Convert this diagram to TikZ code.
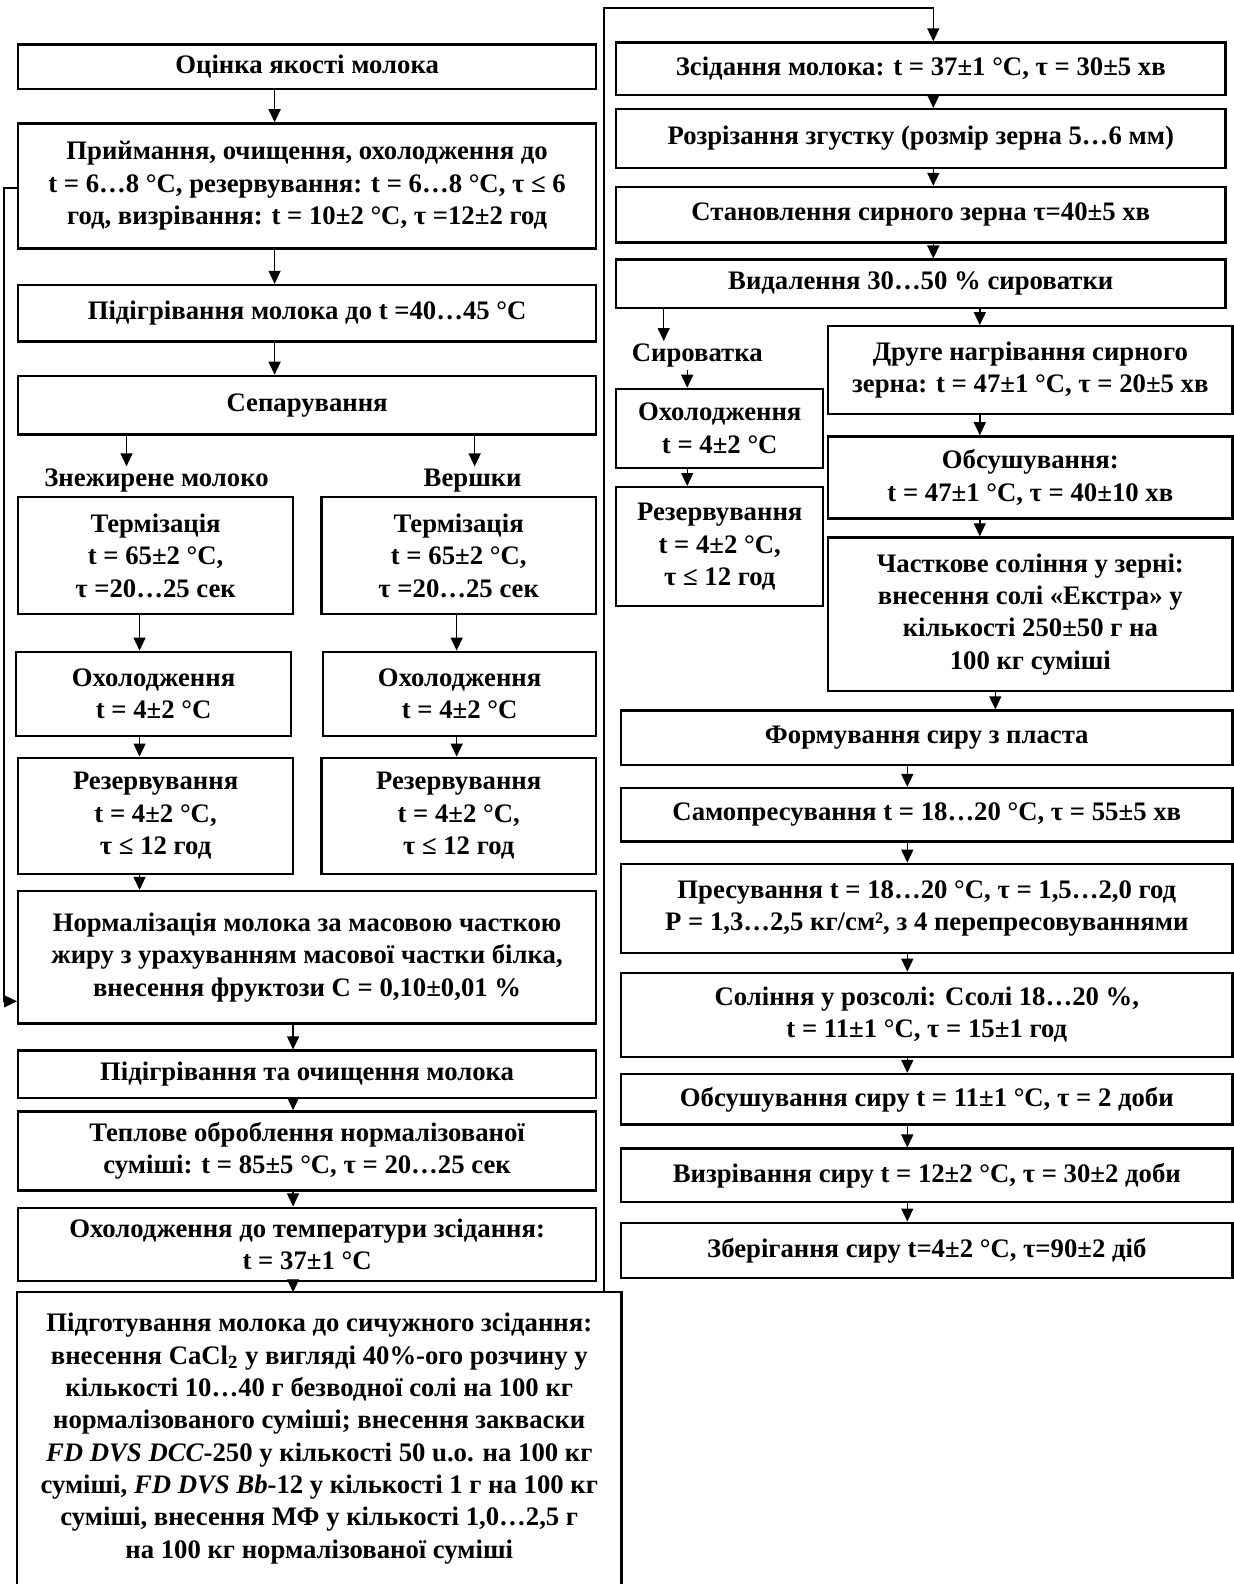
\documentclass[tikz,border=0pt]{standalone}
\usepackage{fontspec}
\setmainfont{Liberation Serif}
\usepackage{tikz}
\usetikzlibrary{arrows.meta}

\begin{document}
\begin{tikzpicture}%[show background grid]
\tikzstyle{every node} = [draw, line width=1.3pt, align=center, inner sep=2pt, font=\fontsize{15.2}{18.4}\selectfont\bfseries]
\tikzstyle{arr} = [line width=0.8pt, -{Triangle[length=0.26cm,width=0.24cm]}]
\tikzstyle{lbl} = [draw=none, inner sep=1pt]

\useasboundingbox (0,0) rectangle (24.66,-31.67);

% left column
\node[minimum width=11.55cm, minimum height=0.89cm] (ocinka) at (6.14,-1.333) {Оцінка якості молока};
\node[minimum width=11.55cm, minimum height=2.50cm] (pryim) at (6.14,-3.717) {Приймання, очищення, охолодження до\\ t = 6…8 °C, резервування: t = 6…8 °C, τ ≤ 6\\ год, визрівання: t = 10±2 °C, τ =12±2 год};
\node[minimum width=11.55cm, minimum height=1.13cm] (pidigr) at (6.14,-6.262) {Підігрівання молока до t =40…45 °C};
\node[minimum width=11.55cm, minimum height=1.17cm] (separ) at (6.14,-8.10) {Сепарування};

\node[lbl] (znezh) at (3.13,-9.615) {Знежирене молоко};
\node[lbl] (vershky) at (9.45,-9.615) {Вершки};

\node[minimum width=5.49cm, minimum height=2.34cm] (term1) at (3.111,-11.11) {Термізація\\ t = 65±2 °C,\\ τ =20…25 сек};
\node[minimum width=5.49cm, minimum height=2.34cm] (term2) at (9.171,-11.11) {Термізація\\ t = 65±2 °C,\\ τ =20…25 сек};
\node[minimum width=5.49cm, minimum height=1.68cm] (okh1) at (3.07,-13.87) {Охолодження\\ t = 4±2 °C};
\node[minimum width=5.45cm, minimum height=1.68cm] (okh2) at (9.19,-13.87) {Охолодження\\ t = 4±2 °C};
\node[minimum width=5.49cm, minimum height=2.32cm] (rez1) at (3.111,-16.31) {Резервування\\ t = 4±2 °C,\\ τ ≤ 12 год};
\node[minimum width=5.49cm, minimum height=2.32cm] (rez2) at (9.171,-16.31) {Резервування\\ t = 4±2 °C,\\ τ ≤ 12 год};

\node[minimum width=11.55cm, minimum height=2.65cm] (norm) at (6.14,-19.14) {Нормалізація молока за масовою часткою\\ жиру з урахуванням масової частки білка,\\ внесення фруктози С = 0,10±0,01 \%};
\node[minimum width=11.55cm, minimum height=0.95cm] (pidochyst) at (6.14,-21.48) {Підігрівання та очищення молока};
\node[minimum width=11.55cm, minimum height=1.58cm] (teplove) at (6.14,-23.01) {Теплове оброблення нормалізованої\\ суміші: t = 85±5 °C, τ = 20…25 сек};
\node[minimum width=11.55cm, minimum height=1.47cm] (okhzsid) at (6.14,-24.88) {Охолодження до температури зсідання:\\ t = 37±1 °C};
\node[draw=none, minimum width=12.04cm, minimum height=5.81cm] (pidgot) at (6.383,-28.765) {Підготування молока до сичужного зсідання:\\ внесення CaCl\textsubscript{2} у вигляді 40\%-ого розчину у\\ кількості 10…40 г безводної солі на 100 кг\\ нормалізованого суміші; внесення закваски\\ \textit{FD DVS DCC}-250 у кількості 50 u.o. на 100 кг\\ суміші, \textit{FD DVS Bb}-12 у кількості 1 г на 100 кг\\ суміші, внесення МФ у кількості 1,0…2,5 г\\ на 100 кг нормалізованої суміші};
\draw[line width=1.3pt] (pidgot.south west) -- (pidgot.north west) -- (pidgot.north east) -- (pidgot.south east);

% right column
\node[minimum width=12.18cm, minimum height=1.05cm] (zsid) at (18.41,-1.374) {Зсідання молока: t = 37±1 °C, τ = 30±5 хв};
\node[minimum width=12.18cm, minimum height=1.17cm] (rozriz) at (18.41,-2.767) {Розрізання згустку (розмір зерна 5…6 мм)};
\node[minimum width=12.18cm, minimum height=1.11cm] (stanovl) at (18.41,-4.293) {Становлення сирного зерна τ=40±5 хв};
\node[minimum width=12.18cm, minimum height=0.97cm] (vydal) at (18.41,-5.676) {Видалення 30…50 \% сироватки};

\node[lbl] (syrov) at (13.94,-7.11) {Сироватка};
\node[minimum width=4.14cm, minimum height=1.58cm] (okh3) at (14.39,-8.565) {Охолодження\\ t = 4±2 °C};
\node[minimum width=4.14cm, minimum height=2.38cm] (rez3) at (14.39,-10.93) {Резервування\\ t = 4±2 °C,\\ τ ≤ 12 год};

\node[minimum width=8.08cm, minimum height=1.76cm] (druhe) at (20.60,-7.403) {Друге нагрівання сирного\\ зерна: t = 47±1 °C, τ = 20±5 хв};
\node[minimum width=8.08cm, minimum height=1.64cm] (obsush) at (20.60,-9.545) {Обсушування:\\ t = 47±1 °C, τ = 40±10 хв};
\node[minimum width=8.08cm, minimum height=3.07cm] (chastk) at (20.60,-12.28) {Часткове соління у зерні:\\ внесення солі «Екстра» у\\ кількості 250±50 г на\\ 100 кг суміші};

\node[minimum width=12.22cm, minimum height=1.09cm] (formuv) at (18.53,-14.75) {Формування сиру з пласта};
\node[minimum width=12.22cm, minimum height=1.07cm] (samopr) at (18.53,-16.29) {Самопресування t = 18…20 °C, τ = 55±5 хв};
\node[minimum width=12.22cm, minimum height=1.78cm] (presuv) at (18.53,-18.16) {Пресування t = 18…20 °C, τ = 1,5…2,0 год\\ P = 1,3…2,5 кг/см², з 4 перепресовуваннями};
\node[minimum width=12.22cm, minimum height=1.68cm] (solinnia) at (18.53,-20.29) {Соління у розсолі: Ссолі 18…20 \%,\\ t = 11±1 °C, τ = 15±1 год};
\node[minimum width=12.22cm, minimum height=1.01cm] (obsushsyr) at (18.53,-21.98) {Обсушування сиру t = 11±1 °C, τ = 2 доби};
\node[minimum width=12.22cm, minimum height=1.07cm] (vyzriv) at (18.53,-23.50) {Визрівання сиру t = 12±2 °C, τ = 30±2 доби};
\node[minimum width=12.22cm, minimum height=1.11cm] (zberig) at (18.53,-25.00) {Зберігання сиру t=4±2 °C, τ=90±2 діб};

% arrow columns
\coordinate (c1) at (5.49,0);
\coordinate (cznezh) at (2.53,0);
\coordinate (cversh) at (9.49,0);
\coordinate (cl) at (2.79,0);
\coordinate (cr) at (9.13,0);
\coordinate (c2) at (5.86,0);
\coordinate (topL) at (12.08,-0.162);
\coordinate (topR) at (18.66,-0.162);
\coordinate (csyr1) at (13.27,0);
\coordinate (csyr2) at (13.74,0);
\coordinate (cdr) at (19.59,0);
\coordinate (cch) at (19.90,0);
\coordinate (c3) at (18.14,0);

\draw[arr] (ocinka.south -| c1) -- (pryim.north -| c1);
\draw[arr] (pryim.south -| c1) -- (pidigr.north -| c1);
\draw[arr] (pidigr.south -| c1) -- (separ.north -| c1);
\draw[arr] (separ.south -| cznezh) -- (znezh.north -| cznezh);
\draw[arr] (separ.south -| cversh) -- (vershky.north -| cversh);
\draw[arr] (term1.south -| cl) -- (okh1.north -| cl);
\draw[arr] (okh1.south -| cl) -- (rez1.north -| cl);
\draw[arr] (rez1.south -| cl) -- (norm.north -| cl);
\draw[arr] (term2.south -| cr) -- (okh2.north -| cr);
\draw[arr] (okh2.south -| cr) -- (rez2.north -| cr);
\draw[arr] (norm.south -| c2) -- (pidochyst.north -| c2);
\draw[arr] (pidochyst.south -| c2) -- (teplove.north -| c2);
\draw[arr] (teplove.south -| c2) -- (okhzsid.north -| c2);
\draw[arr] (okhzsid.south -| c2) -- (pidgot.north -| c2);
\draw[arr] ([yshift=-0.04cm]pryim.west) -- ++(-0.26,0) |- ([yshift=-0.88cm]norm.west);

\draw[arr] (pidgot.north -| topL) -- (topL) -- (topR) -- (zsid.north -| topR);
\draw[arr] (zsid.south -| topR) -- (rozriz.north -| topR);
\draw[arr] (rozriz.south -| topR) -- (stanovl.north -| topR);
\draw[arr] (stanovl.south -| topR) -- (vydal.north -| topR);
\draw[arr] (vydal.south -| csyr1) -- (syrov.north -| csyr1);
\draw[arr] (syrov.south -| csyr2) -- (okh3.north -| csyr2);
\draw[arr] (okh3.south -| csyr2) -- (rez3.north -| csyr2);
\draw[arr] (vydal.south -| cdr) -- (druhe.north -| cdr);
\draw[arr] (druhe.south -| cdr) -- (obsush.north -| cdr);
\draw[arr] (obsush.south -| cdr) -- (chastk.north -| cdr);
\draw[arr] (chastk.south -| cch) -- (formuv.north -| cch);
\draw[arr] (formuv.south -| c3) -- (samopr.north -| c3);
\draw[arr] (samopr.south -| c3) -- (presuv.north -| c3);
\draw[arr] (presuv.south -| c3) -- (solinnia.north -| c3);
\draw[arr] (solinnia.south -| c3) -- (obsushsyr.north -| c3);
\draw[arr] (obsushsyr.south -| c3) -- (vyzriv.north -| c3);
\draw[arr] (vyzriv.south -| c3) -- (zberig.north -| c3);

\end{tikzpicture}
\end{document}
